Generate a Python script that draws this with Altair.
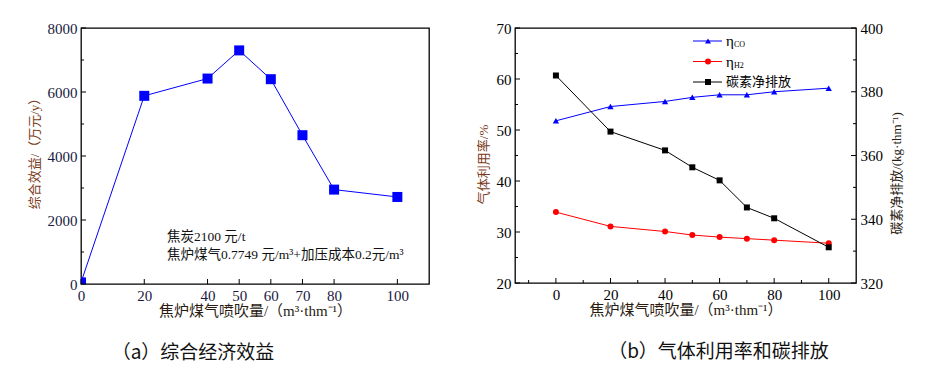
import altair as alt
import pandas as pd

# ---------------- data: panel (a) ----------------
a_x = [0, 20, 40, 50, 60, 70, 80, 100]
a_benefit = [50, 5880, 6420, 7300, 6400, 4650, 2950, 2720]
a_xticks = [0, 20, 40, 50, 60, 70, 80, 100]
a_yticks = [0, 2000, 4000, 6000, 8000]
a_yminor = [1000, 3000, 5000, 7000]
a_notes = ["焦炭2100 元/t", "焦炉煤气0.7749 元/m³+加压成本0.2元/m³"]
a_caption = "（a）综合经济效益"

# ---------------- data: panel (b) ----------------
b_x = [0, 20, 40, 50, 60, 70, 80, 100]
b_eta_co = [51.8, 54.6, 55.6, 56.4, 56.9, 56.9, 57.5, 58.2]
b_eta_h2 = [33.9, 31.1, 30.1, 29.4, 29.0, 28.7, 28.4, 27.8]
b_carbon = [385.1, 367.5, 361.6, 356.3, 352.2, 343.7, 340.3, 331.2]
b_xticks = [0, 20, 40, 60, 80, 100]
b_xminor = [-10, 10, 30, 50, 70, 90]
b_yticks = [20, 30, 40, 50, 60, 70]
b_yminor = [25, 35, 45, 55, 65]
b_y2ticks = [320, 340, 360, 380, 400]
b_y2minor = [330, 350, 370, 390]
b_legend_main = ["η", "η", "碳素净排放"]
b_legend_sub = ["CO", "H2", ""]
b_legend_color = ["#0000FF", "#FF0000", "#000000"]
b_legend_shape = ["triangle-up", "circle", "square"]
b_caption = "（b）气体利用率和碳排放"

SERIF = "Liberation Serif, Times New Roman, serif, Noto Sans CJK SC"
CJK = "Noto Sans CJK SC"
XTITLE = "焦炉煤气喷吹量/（m³·thm⁻¹）"
BROWN = "#7a3a1a"

WA, HA = 348, 256
WB, HB = 341, 255


def xenc(field, domain, values, label_color):
    return alt.X(
        f"{field}:Q",
        scale=alt.Scale(domain=domain, nice=False, zero=False),
        axis=alt.Axis(values=values, ticks=False, domain=False, grid=False, format="d",
                      labelFont=SERIF, labelFontSize=15, labelColor=label_color,
                      labelPadding=4, labelFlush=False,
                      title=XTITLE, titleFont=SERIF, titleFontSize=15,
                      titleFontWeight="normal", titleColor="#2a1a10", titlePadding=0),
    )


def yenc(field, domain, values, title, orient, label_color, title_color, title_y):
    return alt.Y(
        f"{field}:Q",
        scale=alt.Scale(domain=domain, nice=False, zero=False),
        axis=alt.Axis(values=values, ticks=False, domain=False, grid=False, orient=orient,
                      format="d", labelFont=SERIF, labelFontSize=15, labelColor=label_color,
                      labelPadding=4, labelFlush=False, titleAngle=270, titleY=title_y,
                      titleBaseline="top" if orient == "right" else "bottom",
                      title=title, titleFont=SERIF, titleFontSize=13,
                      titleFontWeight="normal", titleColor=title_color,
                      titlePadding=8 if orient == "right" else 6),
    )


# ---------------- panel (a) ----------------
da = pd.DataFrame({"x": a_x, "y": a_benefit})
A_XD, A_YD = [0, 110], [0, 8000]
AY_TITLE = "综合效益/（万元/y）"
LBL_A = "#1a1a40"


def ya(field):
    return yenc(field, A_YD, a_yticks, AY_TITLE, "left", LBL_A, BROWN, 122)


a_line = alt.Chart(da).mark_line(color="#0000FF", strokeWidth=1, clip=True).encode(
    x=xenc("x", A_XD, a_xticks, LBL_A), y=ya("y"))
a_pts = alt.Chart(da).mark_point(shape="square", filled=True, color="#0000FF", size=100,
                                 opacity=1, clip=True).encode(
    x=xenc("x", A_XD, a_xticks, LBL_A), y=ya("y"))
a_xt = alt.Chart(pd.DataFrame({"x": a_xticks})).mark_rule(color="black").encode(
    x=xenc("x", A_XD, a_xticks, LBL_A), y=alt.value(HA), y2=alt.value(HA - 5))
a_yt = alt.Chart(pd.DataFrame({"y": a_yticks})).mark_rule(color="black").encode(
    y=ya("y"), x=alt.value(0), x2=alt.value(5))
a_ym = alt.Chart(pd.DataFrame({"y": a_yminor})).mark_rule(color="black").encode(
    y=ya("y"), x=alt.value(0), x2=alt.value(3))
a_note_layers = [
    alt.Chart(pd.DataFrame({"t": [txt]})).mark_text(
        align="left", baseline="middle", font=SERIF, fontSize=13.5, color="#111111"
    ).encode(text="t:N", x=alt.value(86), y=alt.value(209 + 18 * i))
    for i, txt in enumerate(a_notes)
]
chart_a = alt.layer(a_line, a_pts, a_xt, a_yt, a_ym, *a_note_layers).properties(
    width=WA, height=HA,
    title=alt.TitleParams(a_caption, orient="bottom", anchor="middle", dx=-62, offset=26,
                          font=CJK, fontSize=19, fontWeight="normal", color="#111111"),
)

# ---------------- panel (b) ----------------
db = pd.DataFrame({"x": b_x, "co": b_eta_co, "h2": b_eta_h2, "c": b_carbon})
B_XD, B_YD, B_Y2D = [-15, 110], [20, 70], [320, 400]
YL = "气体利用率/%"
YR = "碳素净排放/(kg·thm⁻¹)"


def yl(field):
    return yenc(field, B_YD, b_yticks, YL, "left", "black", BROWN, 136)


def yr(field):
    return yenc(field, B_Y2D, b_y2ticks, YR, "right", "black", "#2a1a10", 145)


def xb(field):
    return xenc(field, B_XD, b_xticks, "black")


left_layers = [
    alt.Chart(db).mark_line(color="#0000FF", strokeWidth=1).encode(x=xb("x"), y=yl("co")),
    alt.Chart(db).mark_point(shape="triangle-up", filled=True, color="#0000FF", size=40,
                             opacity=1).encode(x=xb("x"), y=yl("co")),
    alt.Chart(db).mark_line(color="#FF0000", strokeWidth=1).encode(x=xb("x"), y=yl("h2")),
    alt.Chart(db).mark_point(shape="circle", filled=True, color="#FF0000", size=36,
                             opacity=1).encode(x=xb("x"), y=yl("h2")),
    alt.Chart(pd.DataFrame({"x": b_xticks})).mark_rule(color="black").encode(
        x=xb("x"), y=alt.value(HB), y2=alt.value(HB - 5)),
    alt.Chart(pd.DataFrame({"x": b_xminor})).mark_rule(color="black").encode(
        x=xb("x"), y=alt.value(HB), y2=alt.value(HB - 3)),
    alt.Chart(pd.DataFrame({"y": b_yticks})).mark_rule(color="black").encode(
        y=yl("y"), x=alt.value(0), x2=alt.value(5)),
    alt.Chart(pd.DataFrame({"y": b_yminor})).mark_rule(color="black").encode(
        y=yl("y"), x=alt.value(0), x2=alt.value(3)),
]
right_layers = [
    alt.Chart(db).mark_line(color="#000000", strokeWidth=1).encode(x=xb("x"), y=yr("c")),
    alt.Chart(db).mark_point(shape="square", filled=True, color="#000000", size=36,
                             opacity=1).encode(x=xb("x"), y=yr("c")),
    alt.Chart(pd.DataFrame({"y": b_y2ticks})).mark_rule(color="black").encode(
        y=yr("y"), x=alt.value(WB), x2=alt.value(WB - 5)),
    alt.Chart(pd.DataFrame({"y": b_y2minor})).mark_rule(color="black").encode(
        y=yr("y"), x=alt.value(WB), x2=alt.value(WB - 3)),
]

legend_layers = []
for i in range(3):
    ly = 13 + 20.5 * i
    one = pd.DataFrame({"m": [b_legend_main[i]], "s": [b_legend_sub[i]]})
    legend_layers += [
        alt.Chart(one).mark_rule(color=b_legend_color[i], strokeWidth=1).encode(
            x=alt.value(178), x2=alt.value(207), y=alt.value(ly)),
        alt.Chart(one).mark_point(shape=b_legend_shape[i], filled=True, opacity=1,
                                  color=b_legend_color[i], size=36).encode(
            x=alt.value(193), y=alt.value(ly)),
        alt.Chart(one).mark_text(align="left", baseline="middle",
                                 font=CJK if i == 2 else SERIF,
                                 fontSize=13 if i == 2 else 15, color="black").encode(
            text="m:N", x=alt.value(211), y=alt.value(ly)),
        alt.Chart(one).mark_text(align="left", baseline="middle", font=SERIF,
                                 fontSize=8, color="black").encode(
            text="s:N", x=alt.value(219), y=alt.value(ly + 4)),
    ]

chart_b = alt.layer(
    alt.layer(*left_layers), alt.layer(*right_layers), *legend_layers
).resolve_scale(y="independent").properties(
    width=WB, height=HB,
    title=alt.TitleParams(b_caption, orient="bottom", anchor="middle", dx=33, offset=26,
                          font=CJK, fontSize=19, fontWeight="normal", color="#111111"),
)

chart = alt.hconcat(chart_a, chart_b, spacing=46).configure_view(
    stroke="black", strokeWidth=1.3
).properties(padding={"left": 19, "top": 12, "right": 5, "bottom": 5})

chart.save("out.html", embed_options={"renderer": "svg", "actions": False})
